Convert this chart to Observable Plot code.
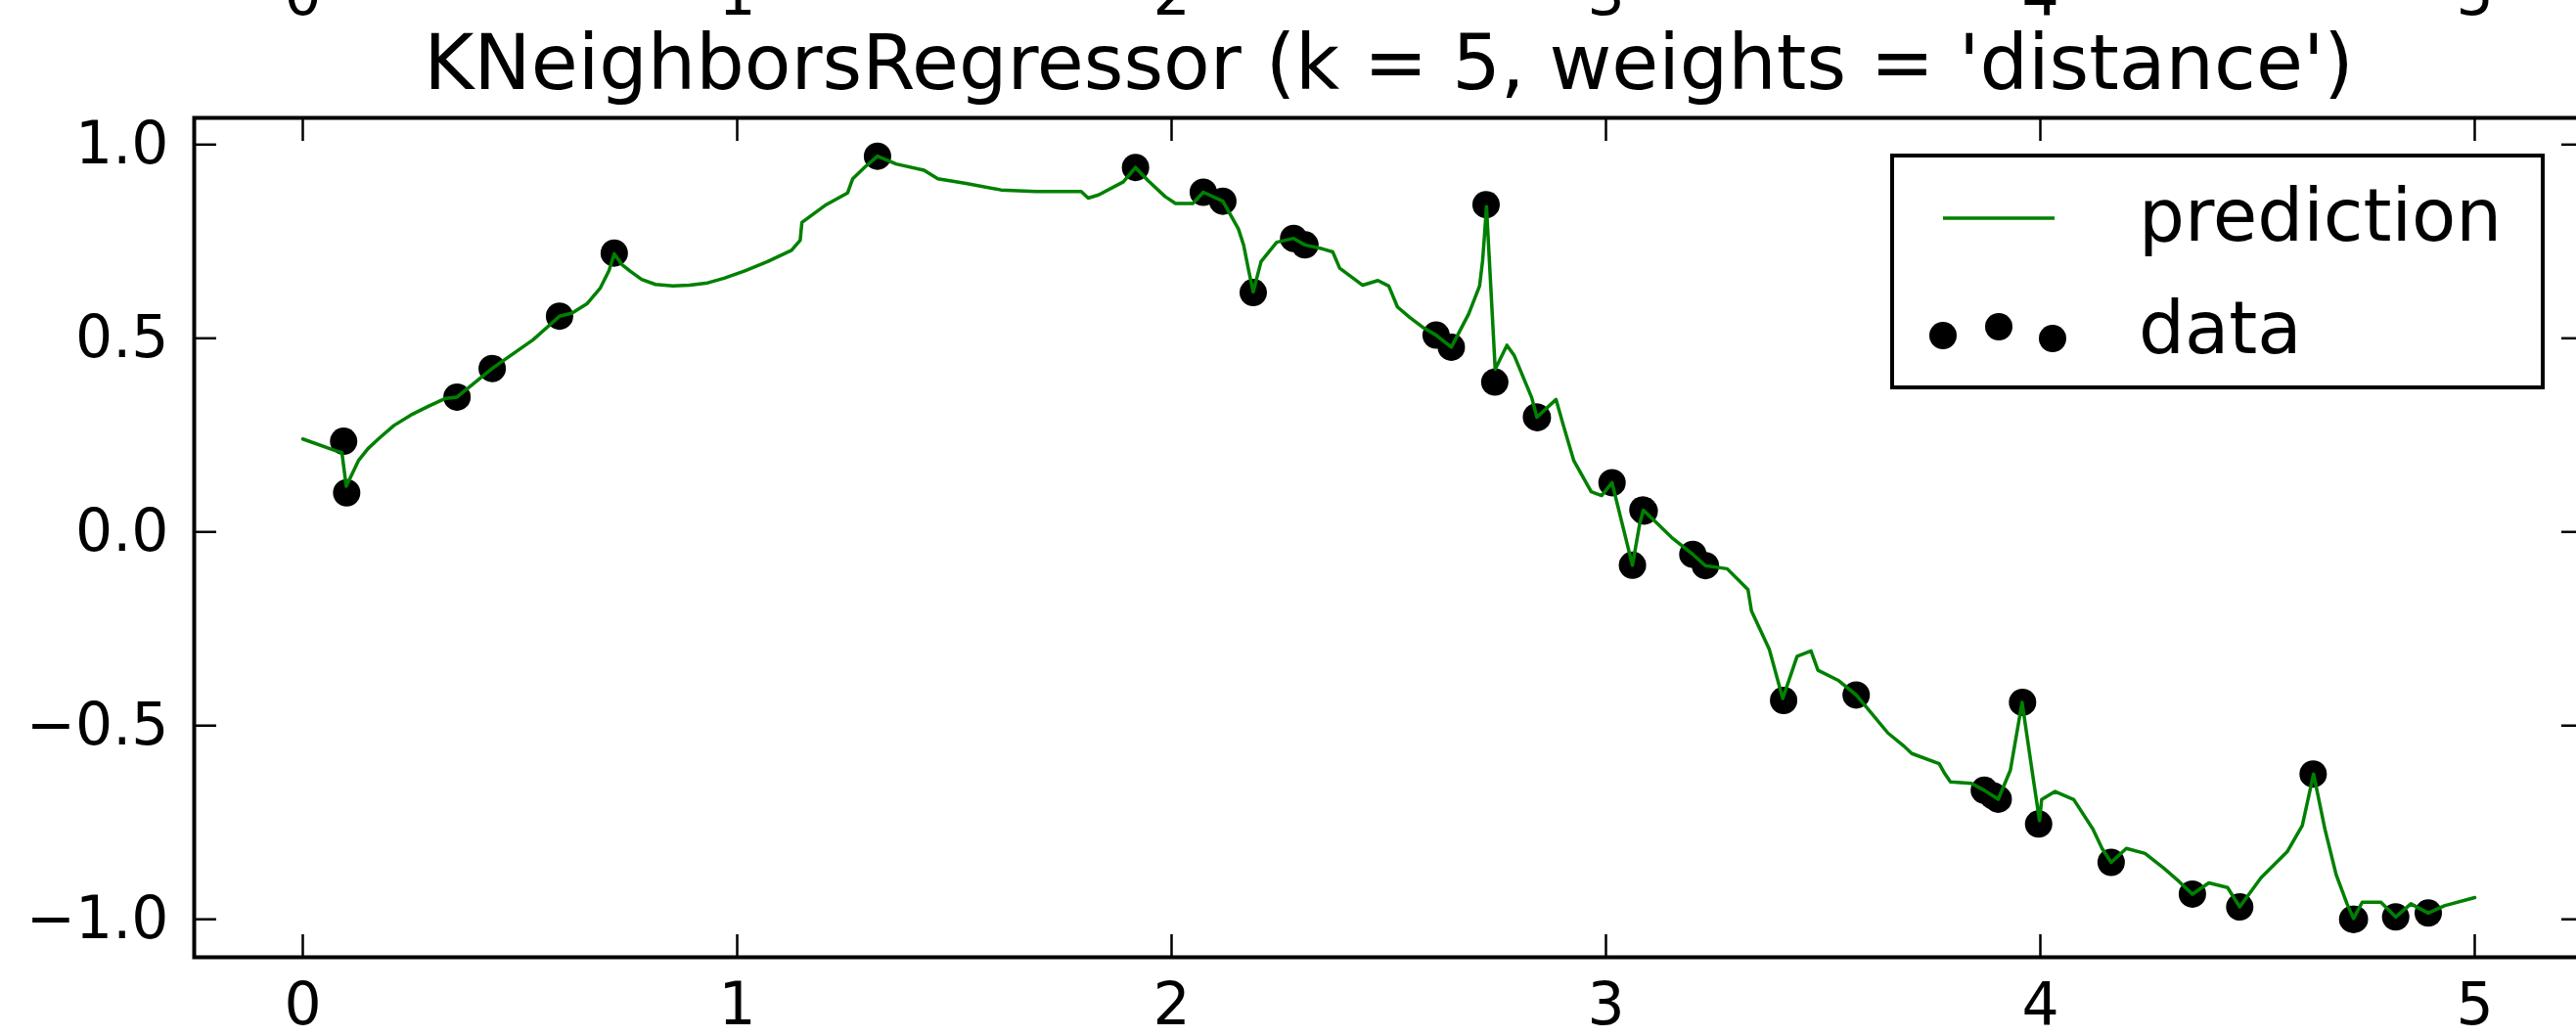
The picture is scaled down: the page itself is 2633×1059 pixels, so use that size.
<!DOCTYPE html>
<html>
<head>
<meta charset="utf-8">
<script src="https://cdn.jsdelivr.net/npm/d3@7"></script>
<script src="https://cdn.jsdelivr.net/npm/@observablehq/plot@0.6"></script>
<style>
  html, body { margin: 0; padding: 0; background: #fff; overflow: hidden; }
  #wrap { position: relative; width: 2633px; height: 1059px; }
  #legend { position: absolute; left: 0; top: 0; pointer-events: none; }
  #legend text { font-family: "DejaVu Sans", sans-serif; font-size: 74px; fill: #000; }
</style>
</head>
<body>
<div id="wrap">
  <div id="chart"></div>
  <svg id="legend" width="2633" height="1059">
    <rect x="1934" y="159" width="665" height="237" fill="#fff" stroke="#000" stroke-width="4"></rect>
    <line x1="1986" x2="2100" y1="223" y2="223" stroke="#008000" stroke-width="3.5"></line>
    <text x="2186" y="246">prediction</text>
    <circle cx="1986" cy="343" r="14" fill="#000"></circle>
    <circle cx="2043" cy="334" r="14" fill="#000"></circle>
    <circle cx="2098" cy="346" r="14" fill="#000"></circle>
    <text x="2186" y="361">data</text>
  </svg>
</div>
<script>
// Training samples
const dataX = [0.094, 0.101, 0.355, 0.436, 0.591, 0.717, 1.323, 1.917, 2.073, 2.118,
               2.188, 2.281, 2.307, 2.609, 2.644, 2.724, 2.744, 2.840, 2.842, 3.014,
               3.061, 3.085, 3.088, 3.200, 3.229, 3.409, 3.576, 3.871, 3.891, 3.903,
               3.959, 3.996, 4.163, 4.350, 4.459, 4.628, 4.719, 4.723, 4.818, 4.893];
const dataY = [0.234, 0.101, 0.348, 0.422, 0.557, 0.720, 0.970, 0.941, 0.877, 0.854,
               0.618, 0.758, 0.741, 0.508, 0.477, 0.845, 0.387, 0.297, 0.295, 0.127,
               -0.086, 0.057, 0.054, -0.058, -0.087, -0.435, -0.421, -0.667, -0.681, -0.690,
               -0.440, -0.754, -0.853, -0.935, -0.968, -0.625, -1.000, -1.000, -0.994, -0.984];

// Regressor output along x
const predX = [0.000, 0.075, 0.090, 0.100, 0.128, 0.150, 0.177, 0.210, 0.249, 0.290,
               0.329, 0.355, 0.436, 0.530, 0.591, 0.620, 0.655, 0.685, 0.705, 0.717,
               0.735, 0.755, 0.780, 0.812, 0.852, 0.890, 0.932, 0.970, 1.013, 1.070,
               1.125, 1.145, 1.149, 1.205, 1.254, 1.266, 1.294, 1.323, 1.366, 1.430,
               1.462, 1.527, 1.607, 1.687, 1.792, 1.808, 1.832, 1.889, 1.917, 1.945,
               1.985, 2.009, 2.049, 2.073, 2.118, 2.154, 2.166, 2.178, 2.188, 2.206,
               2.242, 2.281, 2.307, 2.347, 2.371, 2.387, 2.440, 2.475, 2.500, 2.520,
               2.548, 2.580, 2.609, 2.644, 2.684, 2.709, 2.716, 2.720, 2.725, 2.745,
               2.772, 2.789, 2.829, 2.841, 2.885, 2.902, 2.926, 2.966, 2.990, 3.014,
               3.061, 3.078, 3.086, 3.118, 3.151, 3.200, 3.229, 3.279, 3.327, 3.335,
               3.376, 3.407, 3.440, 3.472, 3.488, 3.536, 3.576, 3.609, 3.649, 3.685,
               3.704, 3.767, 3.780, 3.793, 3.841, 3.871, 3.903, 3.931, 3.958, 3.983,
               3.998, 4.003, 4.034, 4.077, 4.121, 4.142, 4.163, 4.198, 4.241, 4.284,
               4.319, 4.350, 4.388, 4.431, 4.459, 4.508, 4.568, 4.603, 4.629, 4.655,
               4.681, 4.706, 4.721, 4.741, 4.784, 4.818, 4.853, 4.893, 4.930, 5.000];
const predY = [0.240, 0.210, 0.205, 0.118, 0.184, 0.215, 0.243, 0.275, 0.302, 0.325,
               0.345, 0.348, 0.422, 0.496, 0.557, 0.565, 0.590, 0.630, 0.675, 0.718,
               0.690, 0.672, 0.652, 0.639, 0.635, 0.637, 0.643, 0.655, 0.672, 0.698,
               0.727, 0.753, 0.799, 0.845, 0.875, 0.912, 0.942, 0.970, 0.950, 0.934,
               0.912, 0.900, 0.883, 0.879, 0.879, 0.862, 0.870, 0.904, 0.941, 0.908,
               0.866, 0.848, 0.848, 0.877, 0.854, 0.782, 0.740, 0.672, 0.620, 0.698,
               0.748, 0.758, 0.741, 0.731, 0.723, 0.681, 0.637, 0.649, 0.635, 0.581,
               0.554, 0.527, 0.508, 0.477, 0.563, 0.635, 0.700, 0.760, 0.840, 0.420,
               0.482, 0.455, 0.347, 0.296, 0.342, 0.275, 0.184, 0.104, 0.094, 0.127,
               -0.086, 0.023, 0.056, 0.022, -0.014, -0.058, -0.087, -0.095, -0.149, -0.204,
               -0.303, -0.430, -0.321, -0.307, -0.357, -0.384, -0.421, -0.465, -0.519, -0.552,
               -0.572, -0.598, -0.624, -0.645, -0.649, -0.667, -0.690, -0.615, -0.440, -0.632,
               -0.745, -0.691, -0.670, -0.691, -0.767, -0.817, -0.853, -0.817, -0.830, -0.868,
               -0.902, -0.935, -0.906, -0.918, -0.968, -0.893, -0.826, -0.758, -0.625, -0.767,
               -0.885, -0.960, -0.998, -0.956, -0.956, -0.994, -0.960, -0.984, -0.965, -0.944];

const xTicks = [0, 1, 2, 3, 4, 5];
const yTicks = [-1.0, -0.5, 0.0, 0.5, 1.0];
const title = "KNeighborsRegressor (k = 5, weights = 'distance')";

const samples = dataX.map((x, i) => ({x, y: dataY[i]}));
const curve = predX.map((x, i) => ({x, y: predY[i]}));

const chart = Plot.plot({
  width: 2633,
  height: 1059,
  marginLeft: 198,
  marginRight: -7,
  marginTop: 120,
  marginBottom: 81,
  style: {fontFamily: "DejaVu Sans, sans-serif", fontSize: "60px", color: "#000", background: "#fff"},
  x: {domain: [-0.25, 5.25], axis: null},
  y: {domain: [-1.098, 1.069], axis: null},
  marks: [
    Plot.dot(samples, {x: "x", y: "y", r: 14, fill: "#000", stroke: null}),
    Plot.line(curve, {x: "x", y: "y", stroke: "#008000", strokeWidth: 3.5}),
    Plot.frame({stroke: "#000", strokeWidth: 4}),
    // inward ticks on all four sides, labels on bottom and left only
    Plot.axisX(xTicks, {anchor: "bottom", tickSize: -23, tickPadding: 49, strokeWidth: 2.5, fontSize: 60, tickFormat: (d) => String(d), label: null}),
    Plot.axisX(xTicks, {anchor: "top", tickSize: -23, strokeWidth: 2.5, fill: "none", label: null}),
    Plot.axisY(yTicks, {anchor: "left", tickSize: -23, tickPadding: 49, strokeWidth: 2.5, fontSize: 60, tickFormat: ".1f", label: null}),
    Plot.axisY(yTicks, {anchor: "right", tickSize: -23, strokeWidth: 2.5, fill: "none", label: null}),
    // tick labels of the panel above, cut by the top edge
    Plot.text(xTicks, {x: (d) => d, text: (d) => String(d), frameAnchor: "top", dy: -106, lineAnchor: "bottom", fontSize: 60}),
    Plot.text([title], {text: (d) => d, frameAnchor: "top", dy: -30, lineAnchor: "bottom", fontSize: 78})
  ]
});
document.getElementById("chart").appendChild(chart);
</script>
</body>
</html>
